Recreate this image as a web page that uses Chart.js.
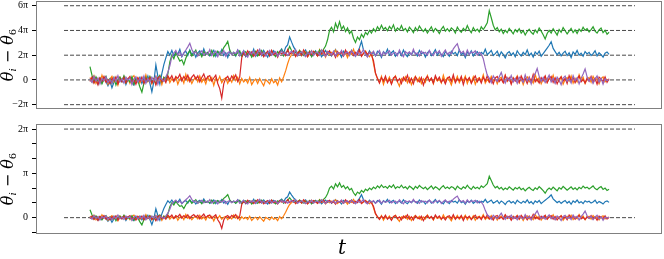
<!DOCTYPE html>
<html>
<head>
<meta charset="utf-8">
<script src="https://cdn.jsdelivr.net/npm/chart.js@4.4.0/dist/chart.umd.min.js"></script>
<style>
  body { margin: 0; background: #fff; }
  canvas { position: absolute; left: 0; }
</style>
</head>
<body>
<canvas id="topChart" width="664" height="117" style="top:0"></canvas>
<canvas id="bottomChart" width="664" height="142" style="top:117px"></canvas>
<script>
const PI = Math.PI;

// time steps (arbitrary units, the t axis has no tick labels)
const time = Array.from({ length: 261 }, (_, i) => i);

// theta_i - theta_6 in radians
const dTheta1 = [
  0.4, -0.5, 0.9, -0.2, -1.1, 0.3, -0.7, 0.6, -0.4, -1.5,
  -0.3, -2.0, -0.6, 0.5, -0.9, 0.2, -0.4, 0.8, -1.2, 0.1,
  0.6, -0.7, -1.3, 0.3, -0.2, 0.7, -0.9, 0.4, -0.5, 1.0,
  -0.8, -3.0, -0.4, 3.8, 0.9, -1.1, 1.6, 3.9, 5.6, 7.2,
  6.3, 7.5, 6.1, 7.0, 6.6, 7.8, 5.9, 6.8, 7.3, 6.2,
  7.6, 6.4, 7.1, 5.8, 6.9, 7.4, 6.3, 7.9, 6.5, 7.0,
  6.1, 6.8, 7.5, 6.0, 7.2, 6.6, 7.7, 6.2, 6.9, 5.7,
  7.3, 6.5, 7.0, 6.1, 7.6, 6.8, 6.3, 7.4, 5.9, 6.7,
  7.2, 6.4, 7.8, 6.0, 6.9, 7.1, 6.2, 7.5, 6.6, 5.8,
  7.0, 6.3, 7.4, 6.7, 6.1, 7.2, 7.9, 6.8, 8.3, 8.9,
  10.9, 9.6, 8.4, 7.5, 6.8, 7.3, 6.2, 6.9, 7.6, 6.4,
  7.1, 6.0, 6.8, 7.4, 6.3, 7.0, 5.9, 6.7, 7.5, 6.5,
  7.2, 6.1, 6.9, 7.7, 6.4, 6.8, 5.8, 7.3, 6.6, 7.0,
  6.2, 7.5, 6.7, 6.0, 7.1, 8.2, 9.8, 7.6, 6.9, 6.3,
  7.4, 6.5, 7.0, 6.1, 7.3, 6.8, 5.7, 7.2, 6.6, 7.8,
  6.3, 6.9, 7.4, 6.0, 6.7, 7.1, 6.2, 7.6, 6.5, 5.9,
  7.0, 6.4, 7.3, 6.8, 6.1, 7.5, 6.6, 7.0, 5.8, 6.9,
  7.4, 6.2, 6.8, 7.7, 6.3, 7.1, 6.5, 5.9, 7.2, 6.7,
  6.0, 7.3, 6.6, 7.0, 6.2, 7.6, 6.4, 6.9, 5.7, 7.1,
  6.5, 7.4, 6.1, 6.8, 7.2, 6.3, 7.0, 6.6, 7.8, 6.4,
  6.9, 7.5, 6.2, 6.7, 7.3, 6.0, 7.1, 6.5, 5.6, 6.8,
  7.2, 6.3, 6.9, 5.9, 7.4, 6.6, 6.1, 7.0, 6.4, 7.6,
  6.2, 6.8, 5.8, 7.1, 6.5, 7.3, 6.0, 6.7, 7.4, 8.1,
  8.8, 9.7, 8.0, 7.2, 6.4, 7.0, 6.1, 6.8, 7.3, 6.2,
  6.9, 5.7, 7.1, 6.5, 7.5, 6.3, 6.8, 6.0, 7.2, 6.6,
  7.0, 6.2, 6.7, 7.4, 6.1, 6.9, 6.4, 5.8, 6.8, 7.1,
  6.5
];
const dTheta2 = [
  0.6, -0.4, 1.0, -0.9, 0.3, -0.6, 1.2, -0.2, 0.5, -1.1,
  0.2, 0.9, -0.5, 0.4, -1.3, 0.7, -0.1, 0.8, -0.7, 0.3,
  -0.9, 0.5, 1.1, -0.3, 0.6, -0.8, 0.2, -0.5, 1.3, -0.4,
  0.7, -1.0, 0.1, 0.9, -0.6, 0.4, -1.2, 0.6, -0.2, 1.0,
  -0.7, 0.3, -0.4, 0.8, -1.1, 0.2, 0.6, -0.8, 1.4, -0.3,
  0.5, -0.9, 0.1, 0.7, -0.5, 1.0, -0.6, 0.3, -1.0, 0.8,
  -0.2, 0.6, -1.4, 0.4, -0.3, 0.9, -0.7, 0.2, 0.5, -0.9,
  0.3, -0.6, 1.1, -0.2, 0.7, -1.0, 0.4, -0.5, 0.1, -0.8,
  0.6, -1.2, -0.3, 0.2, -0.9, 0.4, -0.6, -1.5, 0.1, -0.4,
  -1.0, 0.3, -0.7, -0.2, -1.3, 0.5, -0.5, 0.8, 2.3, 4.1,
  5.6, 6.4, 7.3, 6.0, 6.9, 7.5, 6.2, 6.8, 7.1, 5.9,
  6.6, 7.4, 6.3, 7.0, 6.1, 7.7, 6.5, 6.9, 5.8, 7.2,
  6.4, 7.0, 6.7, 7.6, 6.0, 6.8, 7.3, 6.2, 6.9, 5.7,
  7.1, 6.5, 7.8, 6.3, 6.9, 7.2, 6.1, 6.7, 7.4, 6.4,
  5.9, 6.8, 4.2, 1.6, 0.3, -0.6, 0.9, -1.1, 0.4, -0.3,
  0.7, -0.9, 0.2, 1.0, -0.5, -1.6, 0.3, -0.2, 0.8, -0.7,
  0.5, -1.2, 0.1, 0.9, -0.4, 0.6, -0.9, 0.3, -0.6, 1.1,
  -0.2, 0.4, -1.0, 0.7, -0.3, 0.2, -0.8, 1.2, -0.5, 0.6,
  -0.1, -1.3, 0.5, -0.4, 0.9, -0.7, 0.3, -0.2, 1.0, -0.9,
  0.4, -0.6, 0.8, -1.1, 0.2, 0.6, -0.3, 1.3, -0.8, 0.1,
  -0.5, 0.9, -0.2, 0.5, -1.0, 0.3, 0.7, -0.6, 1.1, -0.4,
  0.2, -0.9, 0.6, -0.1, 1.0, -0.7, 0.4, -1.2, 0.3, 0.8,
  -0.5, 0.1, -0.8, 1.4, -0.3, 0.6, -1.0, 0.2, 0.9, -0.6,
  0.5, -0.2, 1.2, -0.7, 0.3, -0.4, 0.8, -1.1, 0.1, 0.6,
  -0.3, 1.0, -0.8, 0.4, -0.5, 1.3, -0.1, 0.7, -0.9, 0.2,
  0.6, -0.6, 0.9, -0.2, 0.4, -1.0, 0.3, 0.8, -0.5, 0.1,
  -0.2
];
const dTheta3 = [
  3.4, 1.2, -0.6, 0.8, -0.3, 0.5, -1.0, 0.2, 0.9, -0.5,
  0.3, -0.8, 0.6, -1.3, 0.1, 0.7, -0.4, 1.0, -0.7, 0.2,
  -0.5, 0.8, -1.1, 0.4, -0.2, -1.8, -3.1, -0.9, 0.6, -0.3,
  0.9, -0.6, 0.3, -1.0, 0.5, 1.2, -0.4, 0.7, 0.2, 1.5,
  4.6, 6.3, 5.4, 6.9, 5.8, 4.8, 5.1, 3.9, 5.5, 6.7,
  7.4, 6.1, 6.8, 7.6, 6.2, 6.9, 5.9, 7.2, 6.5, 7.0,
  6.3, 7.5, 6.0, 6.8, 7.3, 6.4, 7.1, 8.2, 8.9, 9.8,
  7.6, 6.5, 7.0, 6.2, 6.9, 7.4, 6.0, 6.7, 7.2, 6.4,
  7.1, 5.8, 6.6, 7.3, 6.1, 6.9, 7.5, 6.3, 6.8, 7.0,
  6.2, 7.4, 6.5, 5.9, 7.2, 6.7, 7.6, 6.1, 6.9, 7.3,
  8.5, 7.4, 6.6, 7.1, 6.3, 7.5, 6.8, 6.2, 7.0, 6.5,
  7.3, 5.9, 6.7, 7.2, 6.4, 7.6, 6.9, 7.8, 8.6, 10.2,
  12.6, 13.4, 12.2, 14.4, 13.1, 14.8, 12.9, 13.7, 12.3, 13.2,
  11.8, 12.4, 10.6, 9.5, 10.9, 10.2, 11.6, 10.8, 12.1, 11.5,
  12.6, 11.9, 13.0, 12.3, 13.5, 12.7, 13.9, 12.8, 13.3, 12.5,
  13.6, 12.9, 14.0, 12.4, 13.2, 12.7, 13.8, 12.6, 13.1, 12.2,
  13.4, 12.8, 12.0, 13.3, 12.5, 13.7, 12.9, 12.3, 13.0, 11.9,
  12.7, 13.5, 12.2, 13.1, 12.6, 11.8, 12.9, 13.6, 12.4, 13.0,
  12.3, 13.2, 12.8, 11.9, 13.4, 12.6, 12.1, 13.1, 12.5, 13.8,
  12.7, 12.0, 13.3, 12.4, 12.9, 12.2, 13.5, 12.8, 13.6, 14.5,
  17.6, 15.8, 13.9, 12.7, 13.3, 12.2, 12.9, 11.8, 12.6, 12.0,
  13.1, 12.4, 11.7, 12.8, 12.2, 13.0, 11.9, 12.5, 11.4, 12.3,
  12.9, 12.1, 11.6, 12.7, 12.0, 13.2, 12.4, 11.5, 10.4, 11.8,
  12.6, 11.9, 13.0, 12.2, 11.4, 12.8, 12.1, 13.3, 12.5, 11.7,
  12.4, 13.1, 12.0, 12.7, 11.8, 12.9, 12.3, 13.4, 12.6, 13.0,
  12.2, 12.8, 13.5, 12.4, 11.9, 12.7, 13.2, 12.0, 12.6, 11.6,
  12.1
];
const dTheta4 = [
  -0.4, 0.7, -0.8, 0.3, -1.2, 0.5, -0.3, 0.9, -0.6, 0.1,
  -0.9, 0.4, -0.2, 0.8, -1.0, 0.2, -0.5, 0.6, -0.7, 0.3,
  0.9, -0.6, 0.1, -1.1, 0.5, -0.3, 0.7, -0.9, 0.4, -0.2,
  0.6, -0.8, 0.2, -1.3, 0.5, 0.9, -0.4, 0.3, -0.7, 1.0,
  0.2, 1.1, -0.3, 0.8, 0.4, 1.4, -0.2, 0.9, 0.1, 1.2,
  -0.4, 0.7, 1.3, 0.2, 1.0, -0.5, 0.6, 1.5, 0.0, 0.8,
  1.1, -0.3, 0.5, 1.2, -0.9, -2.2, -4.6, -1.0, 0.4, 0.9,
  -0.2, 1.0, 0.3, 1.3, -0.4, 0.7, 5.6, 6.9, 6.2, 7.4,
  6.5, 7.1, 6.0, 6.8, 7.6, 6.3, 7.0, 5.9, 6.7, 7.3,
  6.1, 7.5, 6.4, 6.9, 5.8, 7.2, 6.6, 7.0, 6.2, 7.7,
  6.5, 6.9, 7.4, 6.0, 6.8, 7.2, 6.3, 7.6, 6.7, 5.9,
  7.1, 6.4, 7.3, 6.8, 6.1, 7.0, 6.6, 7.5, 6.2, 6.9,
  7.4, 6.3, 6.8, 5.7, 7.2, 6.5, 7.0, 6.1, 7.6, 6.6,
  6.9, 7.3, 6.2, 7.0, 6.4, 7.7, 6.0, 6.8, 7.2, 6.5,
  7.0, 6.3, 4.9, 1.8, 0.4, -0.8, 0.6, -0.3, 1.0, -0.7,
  0.2, -1.1, 0.5, 0.9, -0.4, 0.3, -0.9, 0.7, -0.2, 1.2,
  -0.6, 0.4, -1.0, 0.8, 0.1, -0.5, 0.6, -1.3, 0.3, 0.9,
  -0.3, 0.5, -0.8, 1.1, -0.1, 0.7, -0.6, 0.2, -1.0, 0.4,
  0.8, -0.4, 1.3, -0.7, 0.3, -0.2, 0.9, -1.2, 0.5, -0.1,
  0.6, -0.9, 0.2, 1.0, -0.5, 0.4, -0.8, 0.7, -0.3, 1.1,
  -0.6, 0.3, -1.0, 0.5, 0.9, -0.4, 0.2, -0.7, 1.2, -0.2,
  0.6, -1.1, 0.4, -0.3, 0.8, -0.6, 1.0, -0.1, 0.3, -0.9,
  0.7, -0.4, 1.4, -0.5, 0.2, -0.8, 0.6, -0.2, 1.0, -0.7,
  0.3, 0.9, -0.6, 0.5, -1.0, 0.2, 0.8, -0.3, 0.4, -0.9,
  1.1, -0.2, 0.6, -0.7, 0.3, 1.0, -0.5, 0.1, -0.8, 0.5,
  -0.3, 0.9, -0.6, 0.4, -1.1, 0.7, 0.2, -0.4, 0.8, -0.6,
  0.3
];
const dTheta5 = [
  0.2, -0.6, 0.9, -0.3, 0.5, -1.0, 0.4, -0.2, 0.8, -0.7,
  0.1, -0.9, 0.6, -0.4, 1.1, -0.5, 0.3, -0.8, 0.7, -0.1,
  0.5, -1.2, 0.2, 0.8, -0.6, 0.4, -0.3, 1.0, -0.9, 0.3,
  -0.5, 0.7, -0.2, 0.9, -1.1, 0.6, 0.1, -0.4, 0.8, 1.9,
  3.6, 5.9, 6.8, 7.5, 6.3, 7.1, 6.0, 6.9, 7.6, 8.4,
  9.3, 7.8, 6.7, 7.2, 6.1, 6.9, 7.4, 6.3, 7.0, 6.5,
  7.7, 6.2, 6.8, 7.3, 5.9, 7.1, 6.6, 7.5, 6.0, 6.9,
  7.2, 6.4, 7.0, 6.7, 7.6, 6.1, 6.8, 7.4, 6.3, 5.8,
  7.1, 6.6, 7.3, 6.2, 6.9, 7.8, 6.4, 7.0, 6.1, 6.8,
  7.5, 6.3, 6.9, 7.2, 6.0, 6.7, 7.4, 6.5, 7.0, 6.2,
  6.9, 7.3, 6.6, 7.7, 6.1, 6.8, 7.2, 6.4, 5.9, 7.0,
  6.5, 7.4, 6.2, 6.9, 7.1, 6.3, 7.6, 6.7, 6.0, 7.2,
  6.8, 6.4, 7.3, 6.1, 7.0, 6.6, 7.5, 6.2, 6.9, 7.1,
  6.3, 7.4, 6.7, 6.0, 7.2, 6.5, 6.9, 7.7, 6.4, 5.8,
  7.0, 6.6, 7.3, 6.2, 6.8, 7.5, 6.1, 7.1, 6.5, 6.9,
  7.4, 6.3, 6.8, 7.0, 6.2, 7.6, 6.6, 5.9, 7.2, 6.7,
  7.1, 6.4, 7.8, 6.5, 6.9, 6.1, 7.3, 6.7, 7.0, 6.3,
  7.5, 6.6, 6.2, 7.2, 6.8, 7.4, 6.0, 6.9, 7.6, 6.4,
  7.0, 6.7, 7.9, 8.6, 9.2, 7.5, 6.8, 7.3, 6.2, 7.6,
  6.5, 7.1, 6.9, 7.4, 6.3, 7.0, 6.6, 5.4, 3.1, 1.2,
  0.5, -0.7, 1.0, 0.2, -0.4, 0.8, 1.9, 0.3, -0.8, 0.6,
  -0.2, 1.1, -0.5, 0.4, -0.9, 0.7, 0.1, -0.6, 1.3, -0.3,
  0.5, -1.0, 0.8, 1.6, 2.9, 0.9, -0.4, 0.6, -0.7, 0.2,
  1.2, -0.5, 0.4, -0.9, 0.7, 0.0, -1.2, 0.5, 1.0, -0.4,
  0.3, -0.8, 1.1, -0.2, 0.6, -1.0, 0.4, 1.5, 2.8, 0.8,
  -0.3, 0.6, -0.9, 0.2, 1.0, -0.6, 0.4, -1.1, 0.3, -0.2,
  0.1
];

const seriesList = [dTheta1, dTheta2, dTheta3, dTheta4, dTheta5];
const seriesColors = ['#1f77b4', '#ff7f0e', '#2ca02c', '#d62728', '#9467bd'];

// the lower panel shows the same differences divided by this factor
const lowerScale = 6;

const topRefLines = [-2 * PI, 0, 2 * PI, 4 * PI, 6 * PI];
const topTicks = [-2 * PI, 0, 2 * PI, 4 * PI, 6 * PI];
const topTickLabels = ['\u22122\u03c0', '0', '2\u03c0', '4\u03c0', '6\u03c0'];

const bottomRefLines = [0, 2 * PI];
const bottomTicks = [-PI / 3, 0, PI / 3, 2 * PI / 3, PI, 4 * PI / 3, 5 * PI / 3, 2 * PI];
const bottomTickLabels = ['', '0', '', '', '\u03c0', '', '', '2\u03c0'];

const tSpan = time[time.length - 1] - time[0];

function buildDatasets(scaleBy, refLines) {
  const ds = seriesList.map((s, k) => ({
    data: s.map((v, i) => ({ x: time[i], y: v / scaleBy })),
    borderColor: seriesColors[k],
    borderWidth: 1.2,
    pointRadius: 0,
    tension: 0,
    order: 5 - k
  }));
  refLines.forEach(v => {
    ds.push({
      data: [{ x: time[0] - 0.05 * tSpan, y: v }, { x: time[time.length - 1] + 0.05 * tSpan, y: v }],
      borderColor: '#333',
      borderWidth: 0.9,
      borderDash: [4, 2],
      pointRadius: 0,
      order: 10
    });
  });
  return ds;
}

function drawLabel(ctx, cx, cy) {
  // θ_i − θ_6, rotated
  ctx.save();
  ctx.translate(cx, cy);
  ctx.rotate(-PI / 2);
  ctx.fillStyle = '#000';
  ctx.textBaseline = 'alphabetic';
  const parts = [
    { t: '\u03b8', f: 'italic 16px "DejaVu Serif"', dy: 0 },
    { t: 'i', f: 'italic 10px "DejaVu Serif"', dy: 3 },
    { t: ' \u2212 ', f: '16px "DejaVu Serif"', dy: 0 },
    { t: '\u03b8', f: 'italic 16px "DejaVu Serif"', dy: 0 },
    { t: '6', f: '10px "DejaVu Serif"', dy: 3 }
  ];
  let w = 0;
  parts.forEach(p => { ctx.font = p.f; w += ctx.measureText(p.t).width; });
  let x = -w / 2;
  parts.forEach(p => {
    ctx.font = p.f;
    ctx.fillText(p.t, x, 2 + p.dy);
    x += ctx.measureText(p.t).width;
  });
  ctx.restore();
}

const framePlugin = {
  id: 'frame',
  afterDraw(chart) {
    const { ctx, chartArea: a } = chart;
    ctx.save();
    ctx.strokeStyle = '#808080';
    ctx.lineWidth = 1;
    ctx.strokeRect(a.left + 0.5, a.top + 0.5, a.width - 1, a.height - 1);
    ctx.restore();
    drawLabel(ctx, 11, (a.top + a.bottom) / 2);
    if (chart.canvas.id === 'bottomChart') {
      ctx.save();
      ctx.font = 'italic 20px "DejaVu Serif"';
      ctx.fillStyle = '#000';
      ctx.textAlign = 'center';
      ctx.textBaseline = 'middle';
      ctx.fillText('t', 342, 132);
      ctx.restore();
    }
  }
};

function makePanel(id, scaleBy, refLines, yMin, yMax, ticks, labels, pad) {
  return new Chart(document.getElementById(id), {
    type: 'line',
    data: { datasets: buildDatasets(scaleBy, refLines) },
    options: {
      responsive: false,
      animation: false,
      layout: { padding: pad },
      plugins: { legend: { display: false }, tooltip: { enabled: false } },
      scales: {
        x: {
          type: 'linear',
          min: time[0] - 0.104 * tSpan,
          max: time[time.length - 1] + 0.102 * tSpan,
          display: false
        },
        y: {
          min: yMin,
          max: yMax,
          afterBuildTicks: s => { s.ticks = ticks.map(v => ({ value: v })); },
          afterFit: s => { s.width = 36; s.paddingTop = 0; s.paddingBottom = 0; },
          ticks: {
            autoSkip: false,
            callback: (v, i) => labels[i],
            font: { family: 'Liberation Serif', size: 10 },
            color: '#000',
            padding: 4
          },
          grid: { drawOnChartArea: false, tickLength: 4, color: '#000' },
          border: { display: false }
        }
      }
    },
    plugins: [framePlugin]
  });
}

makePanel('topChart', 1, topRefLines, -2 * PI - 1.1, 6 * PI + 1.2,
  topTicks, topTickLabels, { top: 1, bottom: 8, right: 2, left: 0 });
makePanel('bottomChart', lowerScale, bottomRefLines, -1.16, 2 * PI + 0.36,
  bottomTicks, bottomTickLabels, { top: 7, bottom: 25, right: 2, left: 0 });
</script>
</body>
</html>
